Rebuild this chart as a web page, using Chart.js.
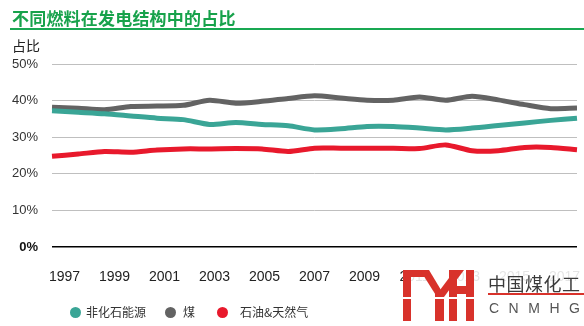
<!DOCTYPE html>
<html>
<head>
<meta charset="utf-8">
<script src="https://cdn.jsdelivr.net/npm/chart.js@4.4.1/dist/chart.umd.min.js"></script>
<style>
  html, body { margin: 0; padding: 0; background: #fff; }
  #wrap { position: relative; width: 584px; height: 326px; overflow: hidden; font-family: "Noto Sans CJK SC", "Liberation Sans", sans-serif; }
  #chart { position: absolute; left: 0; top: 0; }
  .title { position: absolute; left: 12px; top: 5px; font-size: 17px; font-weight: bold; color: #17a24b; letter-spacing: 0.2px; }
  .rule { position: absolute; left: 10px; right: 0; top: 28px; height: 1.5px; background: #19a852; }
  .unit { position: absolute; left: 12px; top: 35px; font-size: 14px; color: #222; }
  .lg-dot { position: absolute; width: 11px; height: 11px; border-radius: 50%; }
  .lg-txt { position: absolute; font-size: 12px; color: #333; line-height: 14px; }
  .veil { position: absolute; left: 405px; top: 262px; width: 179px; height: 64px; background: rgba(255,255,255,0.88); }
  .logo-cn { position: absolute; left: 488px; top: 270px; font-size: 18px; color: #3a3a3a; letter-spacing: 0.5px; }
  .logo-line { position: absolute; left: 488px; width: 96px; top: 293px; height: 1.5px; background: #d8322b; }
  .logo-en { position: absolute; left: 489px; top: 300px; font-family: "Liberation Sans", sans-serif; font-size: 14px; color: #555; letter-spacing: 9.5px; }
</style>
</head>
<body>
<div id="wrap">
  <canvas id="chart" width="584" height="326"></canvas>
  <div class="title">不同燃料在发电结构中的占比</div>
  <div class="rule"></div>
  <div class="unit">占比</div>
  <div id="legend"></div>
  <div class="veil"></div>
  <svg style="position:absolute;left:0;top:0" width="584" height="326">
    <g fill="#d8322b">
      <rect x="403" y="270" width="22" height="7"/>
      <rect x="403" y="270" width="8" height="51"/>
      <polygon points="420,270 429,270 441,290 437,297"/>
      <polygon points="455,270 464,270 444,297 440,290"/>
      <rect x="435" y="290" width="9" height="31"/>
      <rect x="449" y="270" width="8" height="51"/>
      <rect x="466" y="270" width="8" height="51"/>
      <rect x="449" y="286" width="25" height="8"/>
    </g>
    <rect x="400" y="297" width="78" height="2" fill="#fff"/>
  </svg>
  <div class="logo-cn">中国煤化工</div>
  <div class="logo-line"></div>
  <div class="logo-en">CNMHG</div>
</div>
<script>
const years = ['1997','1998','1999','2000','2001','2002','2003','2004','2005','2006','2007',
               '2008','2009','2010','2011','2012','2013','2014','2015','2016','2017'];
const tickLabels = ['1997','1999','2001','2003','2005','2007','2009','2011','2013','2015','2017'];
const yTicks = [0, 10, 20, 30, 40, 50];

const seriesNames = ['非化石能源', '煤', '石油&天然气'];
const seriesColors = ['#3aa596', '#636363', '#e8192c'];

const nonFossil = [37.2, 36.8, 36.4, 35.8, 35.2, 34.8, 33.5, 34.0, 33.5, 33.1, 32.0,
                   32.3, 32.9, 32.9, 32.5, 32.0, 32.5, 33.2, 33.9, 34.6, 35.2];
const coal      = [38.2, 37.9, 37.5, 38.4, 38.5, 38.7, 40.1, 39.3, 39.8, 40.6, 41.3,
                   40.7, 40.1, 40.1, 41.0, 40.1, 41.2, 40.2, 38.9, 37.8, 38.0];
const oilGas    = [24.8, 25.4, 26.1, 25.9, 26.5, 26.8, 26.8, 26.9, 26.8, 26.1, 27.0,
                   27.0, 27.0, 27.0, 26.9, 27.9, 26.3, 26.3, 27.2, 27.2, 26.6];

const seriesData = [nonFossil, coal, oilGas];

// legend (html, positioned like the original)
const legendPos = [[70, 86], [165, 183], [217, 240]];
const legendEl = document.getElementById('legend');
seriesNames.forEach((name, i) => {
  const dot = document.createElement('div');
  dot.className = 'lg-dot';
  dot.style.background = seriesColors[i];
  dot.style.left = legendPos[i][0] + 'px';
  dot.style.top = '307px';
  const txt = document.createElement('div');
  txt.className = 'lg-txt';
  txt.textContent = name;
  txt.style.left = legendPos[i][1] + 'px';
  txt.style.top = '305px';
  legendEl.appendChild(dot);
  legendEl.appendChild(txt);
});

const ctx = document.getElementById('chart').getContext('2d');
new Chart(ctx, {
  type: 'line',
  data: {
    labels: years,
    datasets: seriesNames.map((name, i) => ({
      label: name,
      data: seriesData[i],
      borderColor: seriesColors[i],
      backgroundColor: seriesColors[i],
      borderWidth: 5,
      pointRadius: 0,
      tension: 0.25,
      xAxisID: 'x',
      yAxisID: 'y'
    }))
  },
  options: {
    responsive: false,
    animation: false,
    layout: { padding: { top: 64, right: 7, bottom: 40, left: 0 } },
    plugins: { legend: { display: false }, tooltip: { enabled: false } },
    scales: {
      x: {
        type: 'category',
        display: false,
        offset: false
      },
      x2: {
        type: 'category',
        position: 'bottom',
        labels: years,
        offset: true,
        grid: { display: false, drawTicks: false },
        border: { display: false },
        afterFit: s => { s.height = 39; s.paddingLeft = 0; s.paddingRight = 0; },
        ticks: {
          autoSkip: false,
          maxRotation: 0,
          padding: 22,
          color: '#222',
          font: { family: 'Liberation Sans', size: 14 },
          callback: function (v, i) {
            const lab = years[i];
            return tickLabels.includes(lab) ? lab : '';
          }
        }
      },
      y: {
        min: 0,
        max: 50,
        afterBuildTicks: s => { s.ticks = yTicks.map(v => ({ value: v })); },
        afterFit: s => { s.width = 52; s.paddingTop = 0; s.paddingBottom = 0; },
        grid: {
          drawTicks: false,
          color: c => c.tick && c.tick.value === 0 ? '#000' : '#bfbfbf',
          lineWidth: c => c.tick && c.tick.value === 0 ? 1.6 : 1
        },
        border: { display: false },
        ticks: {
          padding: 14,
          color: c => c.tick && c.tick.value === 0 ? '#111' : '#333',
          font: c => ({ family: 'Liberation Sans', size: 13, weight: c.tick && c.tick.value === 0 ? 'bold' : 'normal' }),
          callback: v => v + '%'
        }
      }
    }
  }
});
</script>
</body>
</html>
